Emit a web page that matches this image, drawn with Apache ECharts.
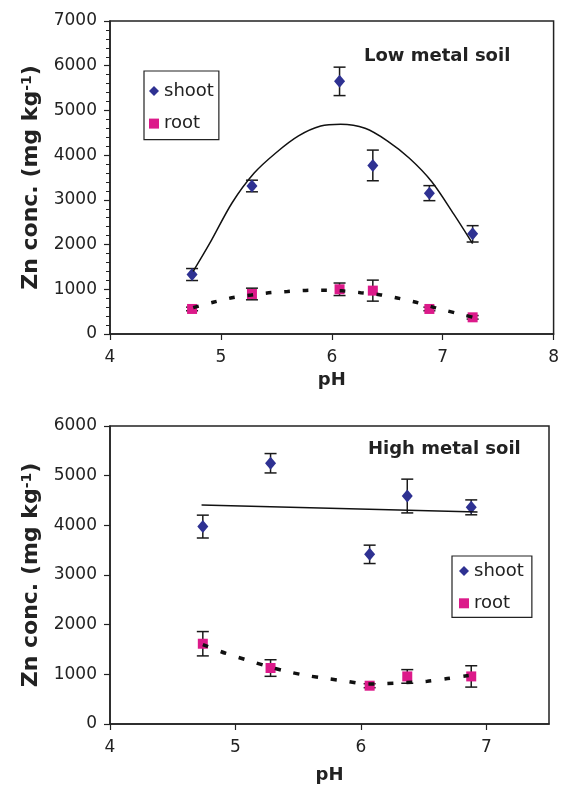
<!DOCTYPE html>
<html>
<head>
<meta charset="utf-8">
<script src="https://cdn.jsdelivr.net/npm/echarts@6/dist/echarts.min.js"></script>
<style>
  html, body { margin: 0; padding: 0; background: #fff; }
  #chart { width: 562px; height: 787px; }
</style>
</head>
<body>
<div id="chart"></div>
<script>
// --- data ---
// low metal soil
const pHLow = [4.74, 5.28, 6.07, 6.37, 6.88, 7.27]
const shootLow = [1330, 3310, 5650, 3770, 3150, 2240]
const shootLowErr = [134, 130, 318, 343, 168, 183]
const rootLow = [560, 895, 1000, 970, 560, 373]
const rootLowErr = [40, 130, 140, 235, 40, 40]
const shootLowFitX = [4.75, 4.9, 5.1, 5.3, 5.5, 5.7, 5.9, 6.08, 6.3, 6.5, 6.7, 6.9, 7.1, 7.27]
const shootLowFitY = [1400, 2030, 2930, 3600, 4060, 4430, 4650, 4690, 4600, 4320, 3930, 3410, 2680, 2020]
const rootLowFitX = [4.75, 4.93, 5.1, 5.275, 5.43, 5.6, 5.765, 5.93, 6.09, 6.26, 6.43, 6.59, 6.76, 6.93, 7.27]
const rootLowFitY = [590, 710, 810, 872, 920, 950, 975, 980, 965, 925, 880, 805, 710, 590, 375]

// high metal soil
const pHHigh = [4.74, 5.28, 6.07, 6.37, 6.88]
const shootHigh = [3975, 5250, 3416, 4590, 4362]
const shootHighErr = [230, 195, 185, 340, 150]
const rootHigh = [1616, 1127, 771, 958, 958]
const rootHighErr = [245, 167, 40, 137, 215]
const shootHighFitX = [4.73, 6.93]
const shootHighFitY = [4410, 4270]
const rootHighFitX = [4.74, 4.925, 5.09, 5.25, 5.4, 5.56, 5.73, 5.89, 6.05, 6.2, 6.36, 6.53, 6.69, 6.86]
const rootHighFitY = [1600, 1420, 1290, 1165, 1065, 980, 915, 860, 805, 815, 835, 860, 915, 975]

const xTicksLow = [4, 5, 6, 7, 8]
const xTicksHigh = [4, 5, 6, 7]

const FONT = "'DejaVu Sans', sans-serif"
const INK = '#222'
const SHOOT = '#2e3192'
const ROOT = '#dc1a8a'

function pairs(xs, ys) {
  return xs.map((x, i) => [x, ys[i]])
}

function triples(xs, ys, es) {
  return xs.map((x, i) => [x, ys[i], es[i]])
}

function renderErr(params, api) {
  const x = api.value(0)
  const y = api.value(1)
  const e = api.value(2)
  const hi = api.coord([x, y + e])
  const lo = api.coord([x, y - e])
  const w = 6
  const style = { stroke: '#1a1a1a', lineWidth: 1.5 }
  return {
    type: 'group',
    children: [
      { type: 'line', shape: { x1: hi[0], y1: hi[1], x2: lo[0], y2: lo[1] }, style },
      { type: 'line', shape: { x1: hi[0] - w, y1: hi[1], x2: hi[0] + w, y2: hi[1] }, style },
      { type: 'line', shape: { x1: lo[0] - w, y1: lo[1], x2: lo[0] + w, y2: lo[1] }, style }
    ]
  }
}

function xAxis(gridIndex, max, ticks, nameGap) {
  return {
    type: 'value',
    gridIndex,
    min: 4,
    max,
    interval: 1,
    name: 'pH',
    nameLocation: 'middle',
    nameGap,
    nameTextStyle: { fontSize: 18, fontWeight: 'bold', color: INK, fontFamily: FONT },
    axisLine: { show: true, lineStyle: { color: INK, width: 1.5 } },
    axisTick: { show: true, inside: false, length: 6, customValues: ticks, lineStyle: { color: INK, width: 1.2 } },
    axisLabel: {
      margin: 15,
      fontSize: 17,
      color: INK,
      fontFamily: FONT,
      customValues: ticks,
      formatter: v => String(v)
    },
    splitLine: { show: false }
  }
}

function yAxis(gridIndex, max, minor) {
  return {
    type: 'value',
    gridIndex,
    min: 0,
    max,
    interval: 1000,
    name: '{b|Zn conc. (mg kg}{s|-1}{b|)}',
    nameLocation: 'middle',
    nameGap: 68,
    nameTextStyle: {
      rich: {
        b: { fontSize: 22, fontWeight: 'bold', color: INK, fontFamily: FONT },
        s: { fontSize: 14, fontWeight: 'bold', color: INK, fontFamily: FONT, verticalAlign: 'top' }
      }
    },
    axisLine: { show: true, lineStyle: { color: INK, width: 1.5 } },
    axisTick: { show: true, inside: false, length: 6, lineStyle: { color: INK, width: 1.2 } },
    minorTick: { show: minor, splitNumber: 5, length: 4, lineStyle: { color: INK, width: 1 } },
    axisLabel: { margin: 13, fontSize: 17, color: INK, fontFamily: FONT, formatter: v => String(v) },
    splitLine: { show: false }
  }
}

function legend(left, top, padding, itemGap) {
  return {
    left,
    top,
    orient: 'vertical',
    selectedMode: false,
    data: [{ name: 'shoot', icon: 'diamond' }, { name: 'root', icon: 'rect' }],
    itemWidth: 10,
    itemHeight: 10,
    itemGap,
    padding,
    borderColor: INK,
    borderWidth: 1.2,
    textStyle: { fontSize: 18, color: INK, fontFamily: FONT }
  }
}

function panelSeries(i, pH, shoot, shootErr, root, rootErr, sFitX, sFitY, rFitX, rFitY, dash) {
  const ax = { xAxisIndex: i, yAxisIndex: i }
  return [
    { ...ax, type: 'custom', name: 'shoot err', renderItem: renderErr, encode: { x: 0, y: 1 }, data: triples(pH, shoot, shootErr), z: 1, silent: true },
    { ...ax, type: 'custom', name: 'root err', renderItem: renderErr, encode: { x: 0, y: 1 }, data: triples(pH, root, rootErr), z: 1, silent: true },
    { ...ax, type: 'scatter', name: 'shoot', symbol: 'diamond', symbolSize: [11, 13], itemStyle: { color: SHOOT, opacity: 1 }, data: pairs(pH, shoot), z: 2 },
    { ...ax, type: 'scatter', name: 'root', symbol: 'rect', symbolSize: 10, itemStyle: { color: ROOT, opacity: 1 }, data: pairs(pH, root), z: 2 },
    { ...ax, type: 'line', name: 'shoot fit', smooth: 0.3, showSymbol: false, lineStyle: { color: '#111', width: 1.5 }, data: pairs(sFitX, sFitY), z: 3, silent: true },
    { ...ax, type: 'line', name: 'root fit', smooth: 0.3, showSymbol: false, lineStyle: { color: '#111', width: 3.5, type: dash, cap: 'butt' }, data: pairs(rFitX, rFitY), z: 3, silent: true }
  ]
}

const chart = echarts.init(document.getElementById('chart'))

chart.setOption({
  backgroundColor: '#fff',
  animation: false,
  textStyle: { fontFamily: FONT },
  title: [
    { text: 'Low metal soil', left: 364, top: 47, padding: 0, textStyle: { fontSize: 18, fontWeight: 'bold', color: INK, fontFamily: FONT } },
    { text: 'High metal soil', left: 368, top: 440, padding: 0, textStyle: { fontSize: 18, fontWeight: 'bold', color: INK, fontFamily: FONT } }
  ],
  legend: [
    legend(144, 71, [11, 5, 7, 5], 14.6),
    legend(452, 556, [6, 8, 5, 7], 14.3)
  ],
  grid: [
    { left: 110, top: 21, width: 444, height: 313, show: true, borderColor: INK, borderWidth: 1.5 },
    { left: 110, top: 426, width: 439, height: 298, show: true, borderColor: INK, borderWidth: 1.5 }
  ],
  xAxis: [xAxis(0, 8, xTicksLow, 37), xAxis(1, 7.5, xTicksHigh, 42)],
  yAxis: [yAxis(0, 7000, true), yAxis(1, 6000, false)],
  series: [
    ...panelSeries(0, pHLow, shootLow, shootLowErr, rootLow, rootLowErr, shootLowFitX, shootLowFitY, rootLowFitX, rootLowFitY, [6, 12.5]),
    ...panelSeries(1, pHHigh, shootHigh, shootHighErr, rootHigh, rootHighErr, shootHighFitX, shootHighFitY, rootHighFitX, rootHighFitY, [6, 13])
  ]
})

window.addEventListener('resize', () => chart.resize())
</script>
</body>
</html>
